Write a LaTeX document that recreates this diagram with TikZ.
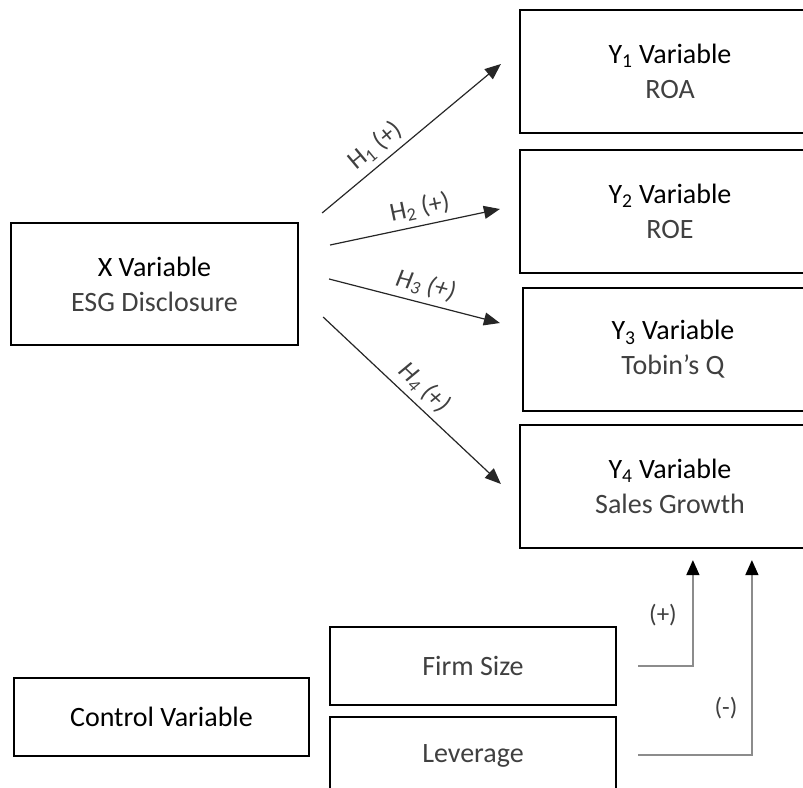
\documentclass[tikz,border=0pt]{standalone}
\usepackage{fontspec}
\setmainfont{Carlito}
\usetikzlibrary{arrows.meta,calc,positioning}

\definecolor{txtgray}{HTML}{404040}
\definecolor{lngray}{HTML}{8C8C8C}

\tikzset{
  varbox/.style={draw, line width=2.2pt, inner sep=0pt, align=center,
    font=\fontsize{28}{35}\selectfont},
  ybox/.style={varbox, minimum width=300pt, minimum height=123pt},
  ctrlbox/.style={varbox, minimum width=286pt, minimum height=78pt},
  hyp/.style={line width=1.2pt, draw=black!85, -{Triangle[length=16pt,width=13pt]}},
  ctrl/.style={line width=1.4pt, draw=lngray, -{Triangle[length=15pt,width=13pt,color=black]}},
  hlabel/.style={above, sloped, inner sep=6pt, text=txtgray, font=\fontsize{26}{30}\selectfont},
  sign/.style={inner sep=0pt, text=txtgray, font=\fontsize{25}{28}\selectfont}
}

\begin{document}
\begin{tikzpicture}[x=1pt, y=-1pt]
  \useasboundingbox (0,0) rectangle (803,787);
  \fill[white] (0,0) rectangle (803,787);
  \clip (0,0) rectangle (803,787);

  % independent variable
  \node[varbox, minimum width=287pt, minimum height=122pt] (xvar) at (154.5,284)
    {X Variable\\\textcolor{txtgray}{ESG Disclosure}};

  % dependent variables
  \node[ybox] (y1) at (670,71.5) {Y\textsubscript{1} Variable\\\textcolor{txtgray}{ROA}};
  \node[ybox] (y2) at (670,211.5) {Y\textsubscript{2} Variable\\\textcolor{txtgray}{ROE}};
  \node[ybox] (y3) at (673,349.5) {Y\textsubscript{3} Variable\\\textcolor{txtgray}{Tobin’s Q}};
  \node[ybox] (y4) at (670,486.5) {Y\textsubscript{4} Variable\\\textcolor{txtgray}{Sales Growth}};

  % control variables
  \node[varbox, minimum width=295pt, minimum height=78pt] (ctrlvar) at (161.5,717) {Control Variable};
  \node[ctrlbox] (firm) at (473,666) {\textcolor{txtgray}{Firm Size}};
  \node[ctrlbox] (lev) at (473,756) {\textcolor{txtgray}{Leverage}};

  % hypotheses
  \draw[hyp] ($(xvar.east)+(23,-71)$) -- node[hlabel, pos=.36] {H\textsubscript{1} (+)} ($(y1.west)+(-18,-7.5)$);
  \draw[hyp] ($(xvar.east)+(31,-39)$) -- node[hlabel, pos=.55] {H\textsubscript{2} (+)} ($(y2.west)+(-19,-2.5)$);
  \draw[hyp] ($(xvar.east)+(30,-5)$) -- node[hlabel, pos=.54] {\textit{H\textsubscript{3} (+)}} ($(y3.west)+(-22,-26.5)$);
  \draw[hyp] ($(xvar.east)+(24,33)$) -- node[hlabel, pos=.5] {\textit{H\textsubscript{4} (+)}} ($(y4.west)+(-18,-2.5)$);

  % effects of the controls
  \draw[ctrl] ($(firm.east)+(21,0)$) -| ($(y4.south west)+(174,11)$);
  \draw[ctrl] ($(lev.east)+(21,-1)$) -| ($(y4.south west)+(233,11)$);
  \node[sign] (plus) at (663,615) {(+)};
  \node[sign] (minus) at (726,708) {(-)};
\end{tikzpicture}
\end{document}
